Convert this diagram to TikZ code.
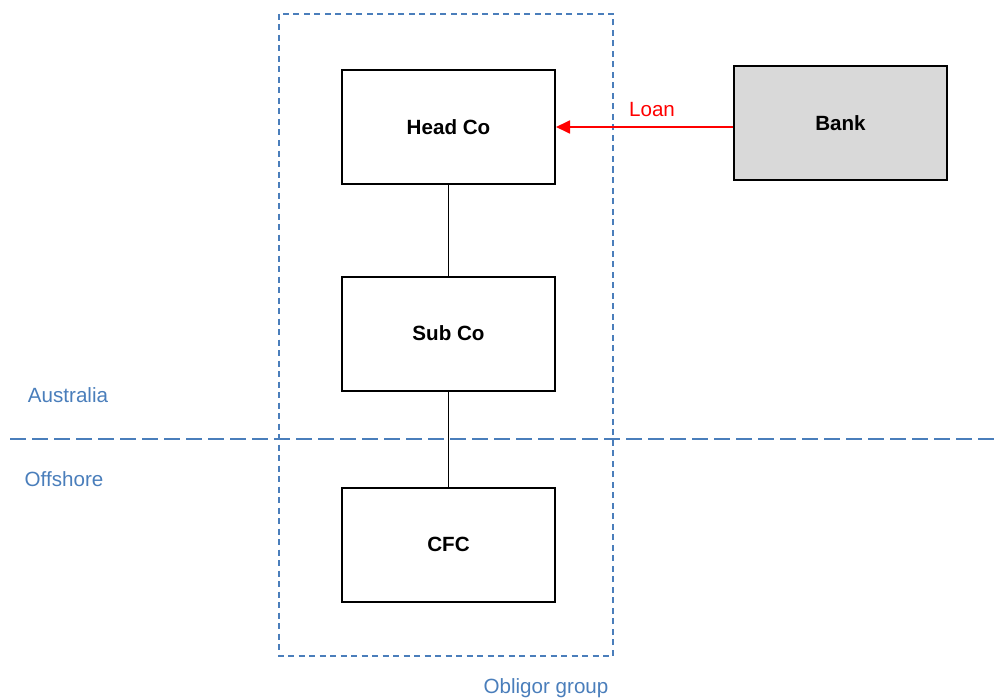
\documentclass[tikz,border=0pt]{standalone}
\usepackage{fontspec}
\setmainfont{Liberation Sans}
\usetikzlibrary{arrows.meta}
\definecolor{grpblue}{RGB}{74,126,187}
\definecolor{bankgray}{RGB}{217,217,217}
\begin{document}
\begin{tikzpicture}[x=1pt,y=-1pt,
  entity/.style={draw=black, line width=2pt, minimum width=213pt, minimum height=114pt, inner sep=0pt, font=\fontsize{20.6}{24}\selectfont\bfseries},
  link/.style={draw=black, line width=1.6pt},
  bluelabel/.style={text=grpblue, font=\fontsize{20.6}{24}\selectfont, inner sep=0pt},
  groupbox/.style={draw=grpblue, line width=1.8pt, dash pattern=on 6pt off 4.5pt},
  border/.style={draw=grpblue, line width=1.8pt, dash pattern=on 16pt off 6pt}
]
\useasboundingbox (0,0) rectangle (998,698);
\draw[groupbox] (279,14) rectangle (613,656);
\draw[border] (10,439) -- (995,439);
\node[entity] (head) at (448.5,127) {Head Co};
\node[entity, fill=bankgray] (bank) at (840.5,123) {Bank};
\node[entity] (sub) at (448.5,333.5) {Sub Co};
\node[entity] (cfc) at (448.5,544.5) {CFC};
\draw[link] (head.south) -- (sub.north);
\draw[link] (sub.south) -- (cfc.north);
\draw[red, line width=1.8pt, -{Triangle[length=14pt,width=13pt]}] (bank.west |- 0,127) -- (head.east |- 0,127);
\node[text=red, font=\fontsize{20.6}{24}\selectfont, inner sep=0pt] (loan) at (652,110) {Loan};
\node[bluelabel] (aus) at (68,395) {Australia};
\node[bluelabel] (off) at (64,479) {Offshore};
\node[bluelabel] (obl) at (546,688) {Obligor group};
\end{tikzpicture}
\end{document}
